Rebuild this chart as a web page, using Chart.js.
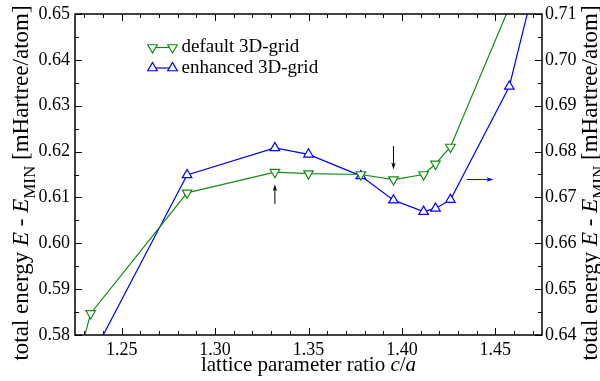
<!DOCTYPE html>
<html><head><meta charset="utf-8">
<script src="https://cdn.jsdelivr.net/npm/chart.js@4/dist/chart.umd.min.js"></script>
<style>html,body{margin:0;padding:0;background:#fff}canvas{display:block}</style>
</head><body>
<canvas id="c" width="600" height="381"></canvas>
<script>
// ---- data ----
const ratio        = [1.220, 1.2334, 1.285, 1.332, 1.350, 1.378, 1.3955, 1.4116, 1.418, 1.426, 1.4575, 1.470];
const defaultGrid  = [0.5643, 0.5847, 0.6110, 0.6155, 0.6152, 0.6150, 0.6139, 0.6150, 0.6173, 0.6210, 0.6515, null];
const enhancedGrid = [null, 0.6348, 0.6749, 0.6808, 0.6794, 0.6747, 0.6694, 0.6669, 0.6676, 0.6695, 0.6942, 0.7148];
const xTicks     = [1.25, 1.30, 1.35, 1.40, 1.45];
const leftTicks  = [0.58, 0.59, 0.60, 0.61, 0.62, 0.63, 0.64, 0.65];
const rightTicks = [0.64, 0.65, 0.66, 0.67, 0.68, 0.69, 0.70, 0.71];
const seriesLabels = ['default 3D-grid', 'enhanced 3D-grid'];
// arrows (data units): start, end, axis
const arrowFrom = [[1.332, 0.6086], [1.3955, 0.6212], [1.4348, 0.6739]];
const arrowTo   = [[1.332, 0.6129], [1.3955, 0.6161], [1.4490, 0.6739]];
const arrowAxis = ['y', 'y', 'y2'];

const SERIF = '"Liberation Serif","Times New Roman",serif';
const GREEN = 'rgb(20,140,20)', BLUE = 'rgb(0,0,255)';
const arrowColor = ['#000', '#000', BLUE];

function pts(ys) { return ratio.map((x, i) => ({ x, y: ys[i] })).filter(p => p.y !== null); }

function fontOf(s, size) { return (s.it ? 'italic ' : '') + (s.sub ? Math.round(size * 0.72) : size) + 'px ' + SERIF; }
function rich(ctx, segs, cx, by, size) {
  let w = 0;
  for (const s of segs) { ctx.font = fontOf(s, size); s.w = ctx.measureText(s.t).width; w += s.w; }
  let x = cx - w / 2;
  ctx.textAlign = 'left'; ctx.textBaseline = 'alphabetic';
  for (const s of segs) { ctx.font = fontOf(s, size); ctx.fillText(s.t, x, by + (s.sub ? size * 0.3 : 0)); x += s.w; }
}
const yTitle = [{ t: 'total energy ' }, { t: 'E', it: 1 }, { t: ' - ' }, { t: 'E', it: 1 }, { t: 'MIN', sub: 1 }, { t: ' [mHartree/atom]' }];
const xTitle = [{ t: 'lattice parameter ratio ' }, { t: 'c', it: 1 }, { t: '/' }, { t: 'a', it: 1 }];

function drawMarker(ctx, x, y, r, rot, color) {
  ctx.save();
  ctx.strokeStyle = color; ctx.lineWidth = 1.2; ctx.fillStyle = '#fff';
  ctx.beginPath();
  let rad = rot * Math.PI / 180;
  for (let i = 0; i < 3; i++) {
    const px = x + Math.sin(rad) * r, py = y - Math.cos(rad) * r;
    i ? ctx.lineTo(px, py) : ctx.moveTo(px, py);
    rad += 2 * Math.PI / 3;
  }
  ctx.closePath(); ctx.fill(); ctx.stroke();
  ctx.restore();
}

const deco = {
  id: 'deco',
  afterDraw(chart) {
    const { ctx, chartArea: a, scales } = chart;
    const sx = scales.x, yl = scales.y, yr = scales.y2;
    ctx.save();
    ctx.strokeStyle = '#000'; ctx.lineWidth = 1;
    const MAJ = 7, MIN = 4;
    ctx.beginPath();
    for (let k = Math.ceil(sx.min / 0.01 - 1e-6); k <= Math.floor(sx.max / 0.01 + 1e-6); k++) {
      const p = Math.round(sx.getPixelForValue(k * 0.01)) + 0.5;
      const L = (k % 5 === 0) ? MAJ : MIN;
      ctx.moveTo(p, a.bottom); ctx.lineTo(p, a.bottom - L);
      ctx.moveTo(p, a.top); ctx.lineTo(p, a.top + L);
    }
    for (let k = Math.round(yl.min / 0.005); k <= Math.round(yl.max / 0.005); k++) {
      const p = Math.round(yl.getPixelForValue(k * 0.005)) + 0.5;
      const L = (k % 2 === 0) ? MAJ : MIN;
      ctx.moveTo(a.left, p); ctx.lineTo(a.left + L, p);
    }
    for (let k = Math.round(yr.min / 0.005); k <= Math.round(yr.max / 0.005); k++) {
      const p = Math.round(yr.getPixelForValue(k * 0.005)) + 0.5;
      const L = (k % 2 === 0) ? MAJ : MIN;
      ctx.moveTo(a.right, p); ctx.lineTo(a.right - L, p);
    }
    ctx.stroke();
    ctx.lineWidth = 1.5;
    ctx.strokeRect(a.left, a.top, a.right - a.left, a.bottom - a.top);

    // arrows
    arrowFrom.forEach((f, i) => {
      const ys = scales[arrowAxis[i]];
      const x1 = sx.getPixelForValue(f[0]), y1 = ys.getPixelForValue(f[1]);
      const x2 = sx.getPixelForValue(arrowTo[i][0]), y2 = ys.getPixelForValue(arrowTo[i][1]);
      const ang = Math.atan2(y2 - y1, x2 - x1), hl = 7, hw = 2.2;
      ctx.strokeStyle = arrowColor[i]; ctx.fillStyle = arrowColor[i]; ctx.lineWidth = 1;
      ctx.beginPath(); ctx.moveTo(x1, y1); ctx.lineTo(x2 - Math.cos(ang) * hl * 0.8, y2 - Math.sin(ang) * hl * 0.8); ctx.stroke();
      ctx.beginPath();
      ctx.moveTo(x2, y2);
      ctx.lineTo(x2 - Math.cos(ang) * hl - Math.sin(ang) * hw, y2 - Math.sin(ang) * hl + Math.cos(ang) * hw);
      ctx.lineTo(x2 - Math.cos(ang) * hl * 0.75, y2 - Math.sin(ang) * hl * 0.75);
      ctx.lineTo(x2 - Math.cos(ang) * hl + Math.sin(ang) * hw, y2 - Math.sin(ang) * hl - Math.cos(ang) * hw);
      ctx.closePath(); ctx.fill();
    });

    // legend
    chart.data.datasets.forEach((ds, i) => {
      const y = 47.5 + i * 20.5, x1 = 152.5, x2 = 172.5;
      ctx.strokeStyle = ds.borderColor; ctx.lineWidth = 1.2;
      ctx.beginPath(); ctx.moveTo(x1, y); ctx.lineTo(x2, y); ctx.stroke();
      drawMarker(ctx, x1, y, ds.pointRadius, ds.pointRotation, ds.borderColor);
      drawMarker(ctx, x2, y, ds.pointRadius, ds.pointRotation, ds.borderColor);
      ctx.fillStyle = '#000'; ctx.font = '19px ' + SERIF; ctx.textAlign = 'left'; ctx.textBaseline = 'middle';
      ctx.fillText(ds.label, 181.5, y);
    });

    // titles
    ctx.fillStyle = '#000';
    rich(ctx, xTitle, (a.left + a.right) / 2, 371, 21);
    const cy = 183;
    ctx.save(); ctx.translate(28, cy); ctx.rotate(-Math.PI / 2); rich(ctx, yTitle, 0, 0, 23); ctx.restore();
    ctx.save(); ctx.translate(597, cy); ctx.rotate(-Math.PI / 2); rich(ctx, yTitle, 0, 0, 23); ctx.restore();
    ctx.restore();
  }
};

const tickFont = { family: SERIF, size: 18, lineHeight: 1 };
new Chart(document.getElementById('c'), {
  type: 'line',
  data: {
    datasets: [
      { label: seriesLabels[0], data: pts(defaultGrid), yAxisID: 'y', borderColor: GREEN, backgroundColor: '#fff',
        borderWidth: 1.2, pointStyle: 'triangle', pointRotation: 180, pointRadius: 5.5, pointBorderWidth: 1.2, clip: 0 },
      { label: seriesLabels[1], data: pts(enhancedGrid), yAxisID: 'y2', borderColor: BLUE, backgroundColor: '#fff',
        borderWidth: 1.2, pointStyle: 'triangle', pointRotation: 0, pointRadius: 5.5, pointBorderWidth: 1.2, clip: 0 }
    ]
  },
  options: {
    responsive: false, animation: false, devicePixelRatio: 1,
    layout: { padding: { top: 9, left: 0, right: 0, bottom: 0 } },
    plugins: { legend: { display: false }, tooltip: { enabled: false } },
    elements: { line: { tension: 0 } },
    scales: {
      x: { type: 'linear', position: 'bottom', min: 1.225, max: 1.475,
        grid: { display: false, drawTicks: false }, border: { display: false },
        afterBuildTicks: s => { s.ticks = xTicks.map(v => ({ value: v })); },
        afterFit: s => { s.height = 46; },
        ticks: { font: tickFont, color: '#000', padding: 6, maxRotation: 0, callback: v => v.toFixed(2) } },
      y: { type: 'linear', position: 'left', min: 0.58, max: 0.65,
        grid: { display: false, drawTicks: false }, border: { display: false },
        afterBuildTicks: s => { s.ticks = leftTicks.map(v => ({ value: v })); },
        afterFit: s => { s.width = 75; },
        ticks: { font: tickFont, color: '#000', padding: 5, callback: v => v.toFixed(2) } },
      y2: { type: 'linear', position: 'right', min: 0.64, max: 0.71,
        grid: { display: false, drawTicks: false }, border: { display: false },
        afterBuildTicks: s => { s.ticks = rightTicks.map(v => ({ value: v })); },
        afterFit: s => { s.width = 58; },
        ticks: { font: tickFont, color: '#000', padding: 3, callback: v => v.toFixed(2) } }
    }
  },
  plugins: [deco]
});
</script>
</body></html>
